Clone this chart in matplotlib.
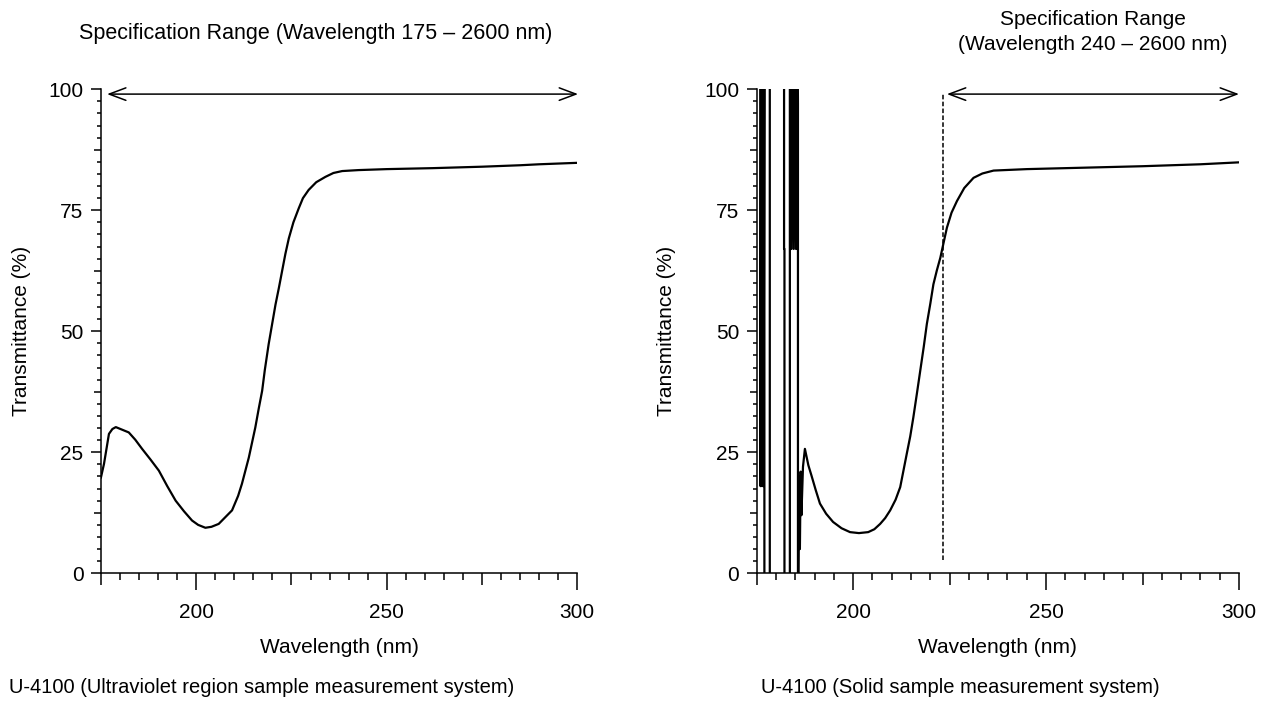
import matplotlib
import matplotlib.pyplot as plt

matplotlib.use("Agg")

plt.rcParams["font.family"] = ["Liberation Sans", "DejaVu Sans"]
plt.rcParams["font.size"] = 15

# Left: U-4100 ultraviolet region sample measurement system
uv_wl = [175.0, 175.8, 177.1, 178.0, 178.9, 182.3, 184.0, 185.8, 188.0, 190.2,
         192.4, 194.6, 196.8, 198.9, 200.5, 202.4, 204.0, 205.9, 209.4, 211.0,
         212.0, 213.8, 215.5, 216.4, 217.3, 218.0, 219.0, 220.8, 221.7, 222.5,
         223.4, 224.3, 225.5, 226.9, 228.0, 229.5, 231.5, 233.9, 236.0, 238.3,
         242.6, 250.0, 262.0, 275.0, 285.0, 290.0, 300.0]
uv_t = [19.8, 22.6, 28.8, 29.8, 30.2, 29.1, 27.6, 25.7, 23.5, 21.2,
        18.0, 15.0, 12.8, 10.9, 10.0, 9.4, 9.6, 10.2, 13.0, 16.0,
        18.5, 23.9, 30.1, 34.0, 37.7, 42.0, 47.3, 55.5, 59.0, 62.3,
        66.0, 69.2, 72.5, 75.4, 77.5, 79.2, 80.8, 81.9, 82.7, 83.1,
        83.3, 83.5, 83.7, 84.0, 84.3, 84.5, 84.8]

# Right: U-4100 solid sample measurement system (noisy below ~187 nm)
solid_wl = [175.9, 176.0, 176.2, 176.4, 176.6, 176.8, 177.0, 177.0, 178.4, 178.4,
            182.1, 182.1, 182.2, 182.2, 183.6, 183.6, 184.0, 184.3, 184.6, 184.9,
            185.2, 185.5, 185.7, 185.7, 186.0, 186.2, 186.4, 186.6, 187.0, 187.5,
            188.4, 189.2, 190.3, 191.4, 193.0, 194.8, 197.0, 199.2, 201.5, 203.9,
            205.5, 207.0, 208.3, 209.6, 211.0, 212.2, 213.9, 214.8, 215.6, 216.5,
            217.4, 218.3, 219.1, 220.0, 220.8, 221.7, 222.6, 223.5, 224.3, 225.5,
            226.9, 228.8, 231.2, 233.5, 236.4, 245.0, 260.0, 275.0, 290.0, 300.0]
solid_t = [120, 18, 120, 18, 120, 18, 120, -20, -20, 120,
           120, 67, 67, -20, -20, 120, 67, 120, 67, 120,
           67, 120, 97, -20, 20, 5, 21, 12, 22, 25.7,
           22.3, 20.2, 17.2, 14.4, 12.3, 10.6, 9.3, 8.5, 8.3, 8.5,
           9.1, 10.2, 11.4, 13.0, 15.2, 17.8, 24.7, 28.3, 32.2, 37.0,
           41.9, 46.8, 51.5, 55.7, 59.7, 62.6, 65.2, 68.5, 71.4, 74.5,
           76.9, 79.6, 81.7, 82.6, 83.2, 83.5, 83.8, 84.1, 84.5, 84.9]

x_major = [200, 250, 300]
x_minor = [v for v in range(175, 301, 5) if v not in x_major]
x_medium = [175, 225, 275]
y_major = [0, 25, 50, 75, 100]
y_minor = [i * 2.5 for i in range(41) if (i * 2.5) not in y_major]
y_medium = [12.5, 37.5, 62.5, 87.5]

fig = plt.figure(figsize=(12.73, 7.21), dpi=100)
ax1 = fig.add_axes([0.0793, 0.2049, 0.3742, 0.6713])
ax2 = fig.add_axes([0.5944, 0.2049, 0.3789, 0.6713])


def style_axes(ax, ylabel_x):
    ax.set_xlim(175, 300)
    ax.set_ylim(0, 100)
    ax.spines["top"].set_visible(False)
    ax.spines["right"].set_visible(False)
    ax.spines["left"].set_linewidth(1.1)
    ax.spines["bottom"].set_linewidth(1.1)
    ax.set_xticks(x_major)
    ax.set_xticks(x_minor, minor=True)
    ax.set_yticks(y_major)
    ax.set_yticks(y_minor, minor=True)
    ax.tick_params(axis="x", which="major", direction="out", length=12.5, width=1.1, pad=9)
    ax.tick_params(axis="x", which="minor", direction="out", length=5.2, width=1.1)
    ax.tick_params(axis="y", which="major", direction="out", length=7.5, width=1.1, pad=5)
    ax.tick_params(axis="y", which="minor", direction="out", length=3.0, width=1.1)
    # medium-length ticks
    locs = ax.xaxis.get_minorticklocs()
    for loc, tick in zip(locs, ax.xaxis.get_minor_ticks(len(locs))):
        if round(loc, 2) in x_medium:
            tick.tick1line.set_markersize(8.5)
    locs = ax.yaxis.get_minorticklocs()
    for loc, tick in zip(locs, ax.yaxis.get_minor_ticks(len(locs))):
        if round(loc, 2) in y_medium:
            tick.tick1line.set_markersize(5.3)
    ax.set_xlabel("Wavelength (nm)")
    ax.set_ylabel("Transmittance (%)")
    ax.xaxis.set_label_coords(0.5, -0.134)
    ax.yaxis.set_label_coords(ylabel_x, 0.5)


style_axes(ax1, -0.147)
style_axes(ax2, -0.167)

ax1.plot(uv_wl, uv_t, color="black", lw=1.6)
ax2.plot(solid_wl, solid_t, color="black", lw=1.6)

arrow = dict(arrowstyle="<->,head_length=1.2,head_width=0.45", lw=1.1,
             color="black", shrinkA=0, shrinkB=0, mutation_scale=10)
ax1.annotate("", xy=(300.2, 99), xytext=(176.6, 99), arrowprops=arrow,
             annotation_clip=False)
ax2.annotate("", xy=(300.0, 99), xytext=(224.3, 99), arrowprops=arrow,
             annotation_clip=False)
ax2.plot([223.3, 223.3], [2.7, 99], color="black", lw=1.1,
         linestyle=(0, (3, 1.5)), clip_on=False)

fig.text(0.248, 0.954, "Specification Range (Wavelength 175 \u2013 2600 nm)",
         ha="center", va="center", fontsize=15.5)
fig.text(0.8586, 0.955, "Specification Range\n(Wavelength 240 \u2013 2600 nm)",
         ha="center", va="center", linespacing=1.4)
fig.text(0.2058, 0.0458, "U-4100 (Ultraviolet region sample measurement system)",
         ha="center", va="center", fontsize=14.5)
fig.text(0.754, 0.0458, "U-4100 (Solid sample measurement system)",
         ha="center", va="center", fontsize=14.5)

fig.savefig("out.png", dpi=100)
